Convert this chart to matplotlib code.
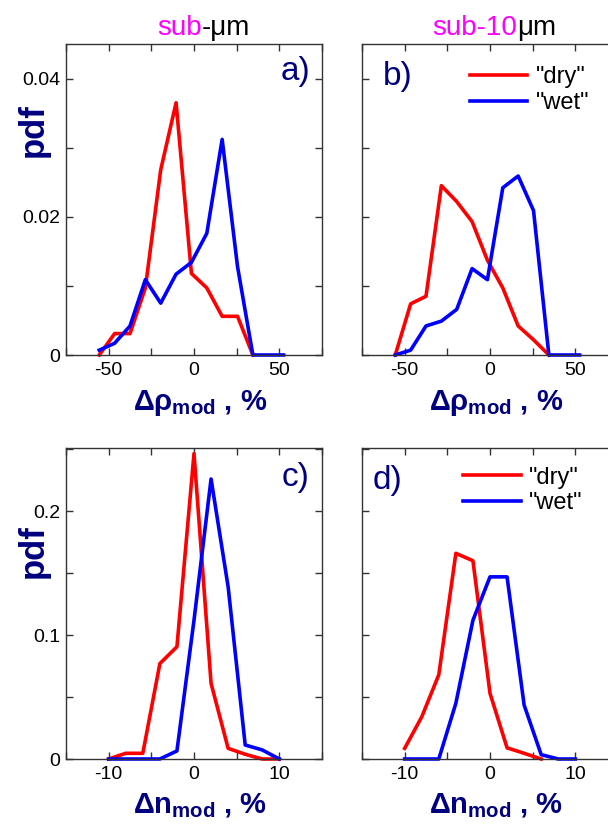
import matplotlib
matplotlib.use("Agg")
import matplotlib.pyplot as plt
from matplotlib.ticker import MultipleLocator, FuncFormatter

plt.rcParams["font.family"] = ["Liberation Sans", "DejaVu Sans"]
plt.rcParams["axes.unicode_minus"] = False
plt.rcParams["mathtext.fontset"] = "custom"
plt.rcParams["mathtext.rm"] = "Liberation Sans:bold"
plt.rcParams["mathtext.it"] = "Liberation Sans:bold"
plt.rcParams["mathtext.bf"] = "Liberation Sans:bold"

# --- data ---
# a) sub-um, delta rho
rho_x_dry_a = [-55.5, -46.5, -37.5, -28.5, -19.5, -10.5, -1.5, 7.5, 16.5, 25.5, 34.5]
rho_dry_a = [0.0, 0.0031, 0.0031, 0.0097, 0.0268, 0.0365, 0.0118, 0.0097, 0.0056, 0.0056, 0.0]
rho_x_wet_a = [-55.5, -46.5, -37.5, -28.5, -19.5, -10.5, -1.5, 7.5, 16.5, 25.5, 34.5, 43.5, 52.5]
rho_wet_a = [0.0007, 0.0017, 0.0042, 0.0109, 0.0075, 0.0117, 0.0134, 0.0176, 0.0312, 0.0128, 0.0, 0.0, 0.0]

# b) sub-10um, delta rho
rho_x_dry_b = [-55.5, -46.5, -37.5, -28.5, -19.5, -10.5, -1.5, 7.5, 16.5, 25.5, 34.5]
rho_dry_b = [0.0, 0.0074, 0.0085, 0.0245, 0.0222, 0.0193, 0.0137, 0.0097, 0.0042, 0.0022, 0.0]
rho_x_wet_b = [-55.5, -46.5, -37.5, -28.5, -19.5, -10.5, -1.5, 7.5, 16.5, 25.5, 34.5, 43.5, 52.5]
rho_wet_b = [0.0, 0.0007, 0.0042, 0.0049, 0.0066, 0.0125, 0.0109, 0.0242, 0.0259, 0.0209, 0.0, 0.0, 0.0]

# c) sub-um, delta n
n_x = [-10, -8, -6, -4, -2, 0, 2, 4, 6, 8, 10]
n_dry_c = [0.0, 0.0046, 0.0046, 0.077, 0.0906, 0.2465, 0.061, 0.0086, 0.0038, 0.0, 0.0]
n_wet_c = [0.0, 0.0, 0.0, 0.0, 0.0065, 0.112, 0.226, 0.139, 0.0113, 0.0073, 0.0]

# d) sub-10um, delta n
n_x_dry_d = [-10, -8, -6, -4, -2, 0, 2, 4, 6]
n_dry_d = [0.0086, 0.034, 0.068, 0.166, 0.160, 0.053, 0.009, 0.0046, 0.0]
n_wet_d = [0.0, 0.0, 0.0, 0.045, 0.112, 0.147, 0.147, 0.0435, 0.0035, 0.0, 0.0]

NAVY = "#000080"
RED = "#ff0000"
BLUE = "#0000ff"
LW = 2.6

fig = plt.figure(figsize=(6.08, 8.25), dpi=100)

W, H = 256 / 608, 311 / 825
ax_a = fig.add_axes([66 / 608, (825 - 355) / 825, W, H])
ax_b = fig.add_axes([362 / 608, (825 - 355) / 825, W, H])
ax_c = fig.add_axes([66 / 608, (825 - 759) / 825, W, H])
ax_d = fig.add_axes([362 / 608, (825 - 759) / 825, W, H])

ax_a.plot(rho_x_dry_a, rho_dry_a, color=RED, lw=LW, clip_on=False)
ax_a.plot(rho_x_wet_a, rho_wet_a, color=BLUE, lw=LW, clip_on=False)
ax_b.plot(rho_x_dry_b, rho_dry_b, color=RED, lw=LW, clip_on=False, label='"dry"')
ax_b.plot(rho_x_wet_b, rho_wet_b, color=BLUE, lw=LW, clip_on=False, label='"wet"')
ax_c.plot(n_x, n_dry_c, color=RED, lw=LW, clip_on=False)
ax_c.plot(n_x, n_wet_c, color=BLUE, lw=LW, clip_on=False)
ax_d.plot(n_x_dry_d, n_dry_d, color=RED, lw=LW, clip_on=False, label='"dry"')
ax_d.plot(n_x, n_wet_d, color=BLUE, lw=LW, clip_on=False, label='"wet"')

fmt = FuncFormatter(lambda v, p: f"{v:g}")
for ax in (ax_a, ax_b):
    ax.set_xlim(-75, 75)
    ax.set_ylim(0, 0.045)
    ax.xaxis.set_major_locator(MultipleLocator(50))
    ax.xaxis.set_minor_locator(MultipleLocator(25))
    ax.yaxis.set_major_locator(MultipleLocator(0.02))
    ax.yaxis.set_minor_locator(MultipleLocator(0.01))
for ax in (ax_c, ax_d):
    ax.set_xlim(-15, 15)
    ax.set_ylim(0, 0.251)
    ax.xaxis.set_major_locator(MultipleLocator(10))
    ax.xaxis.set_minor_locator(MultipleLocator(5))
    ax.yaxis.set_major_locator(MultipleLocator(0.1))
    ax.yaxis.set_minor_locator(MultipleLocator(0.05))

for ax in (ax_a, ax_b, ax_c, ax_d):
    ax.yaxis.set_major_formatter(fmt)
    ax.tick_params(which="both", direction="in", top=True, right=True,
                   length=5, width=1, color="#333333", labelsize=14, pad=5)
    ax.tick_params(axis="y", pad=4)
    for sp in ax.spines.values():
        sp.set_color("#333333")
        sp.set_linewidth(1)
for ax in (ax_b, ax_d):
    ax.tick_params(labelleft=False)

# x labels
for ax in (ax_a, ax_b):
    ax.set_xlabel(r"$\Delta\rho_{\rm mod}$ , %", fontsize=21, fontweight="bold", color=NAVY)
for ax in (ax_c, ax_d):
    ax.set_xlabel(r"$\Delta n_{\rm mod}$ , %", fontsize=21, fontweight="bold", color=NAVY)
for ax in (ax_a, ax_b, ax_c, ax_d):
    ax.xaxis.set_label_coords(0.523, -0.105)

# pdf labels
fig.text(33 / 608, 1 - 130 / 825, "pdf", rotation=90, fontsize=25, fontweight="bold",
         color=NAVY, ha="center", va="center")
fig.text(33 / 608, 1 - 551 / 825, "pdf", rotation=90, fontsize=25, fontweight="bold",
         color=NAVY, ha="center", va="center")

# panel letters
ax_a.text(0.953, 0.913, "a)", transform=ax_a.transAxes, fontsize=24, color=NAVY, ha="right", va="center")
ax_b.text(0.082, 0.894, "b)", transform=ax_b.transAxes, fontsize=24, color=NAVY, ha="left", va="center")
ax_c.text(0.953, 0.904, "c)", transform=ax_c.transAxes, fontsize=24, color=NAVY, ha="right", va="center")
ax_d.text(0.040, 0.897, "d)", transform=ax_d.transAxes, fontsize=24, color=NAVY, ha="left", va="center")

# legends
for ax, anchor in ((ax_b, (0.42, 0.928)), (ax_d, (0.395, 0.94))):
    ax.legend(loc="upper left", bbox_to_anchor=anchor, frameon=False, fontsize=17,
              handlelength=2.45, handletextpad=0.35, labelspacing=0.15,
              borderpad=0, borderaxespad=0)

# column titles, two colours
def colored_title(x, parts):
    t = fig.text(x, 1 - 35 / 825, parts[0][0], color=parts[0][1], fontsize=20, va="baseline")
    for s, c in parts[1:]:
        t = ax_a.annotate(s, xy=(1, 0), xycoords=t, va="bottom", ha="left",
                          color=c, fontsize=20, annotation_clip=False)

colored_title(157 / 608, [("sub", "#ff00ff"), ("-\u03bcm", "black")])
colored_title(432 / 608, [("sub-10", "#ff00ff"), ("\u03bcm", "black")])

plt.savefig("out.png", dpi=100)
plt.close()
